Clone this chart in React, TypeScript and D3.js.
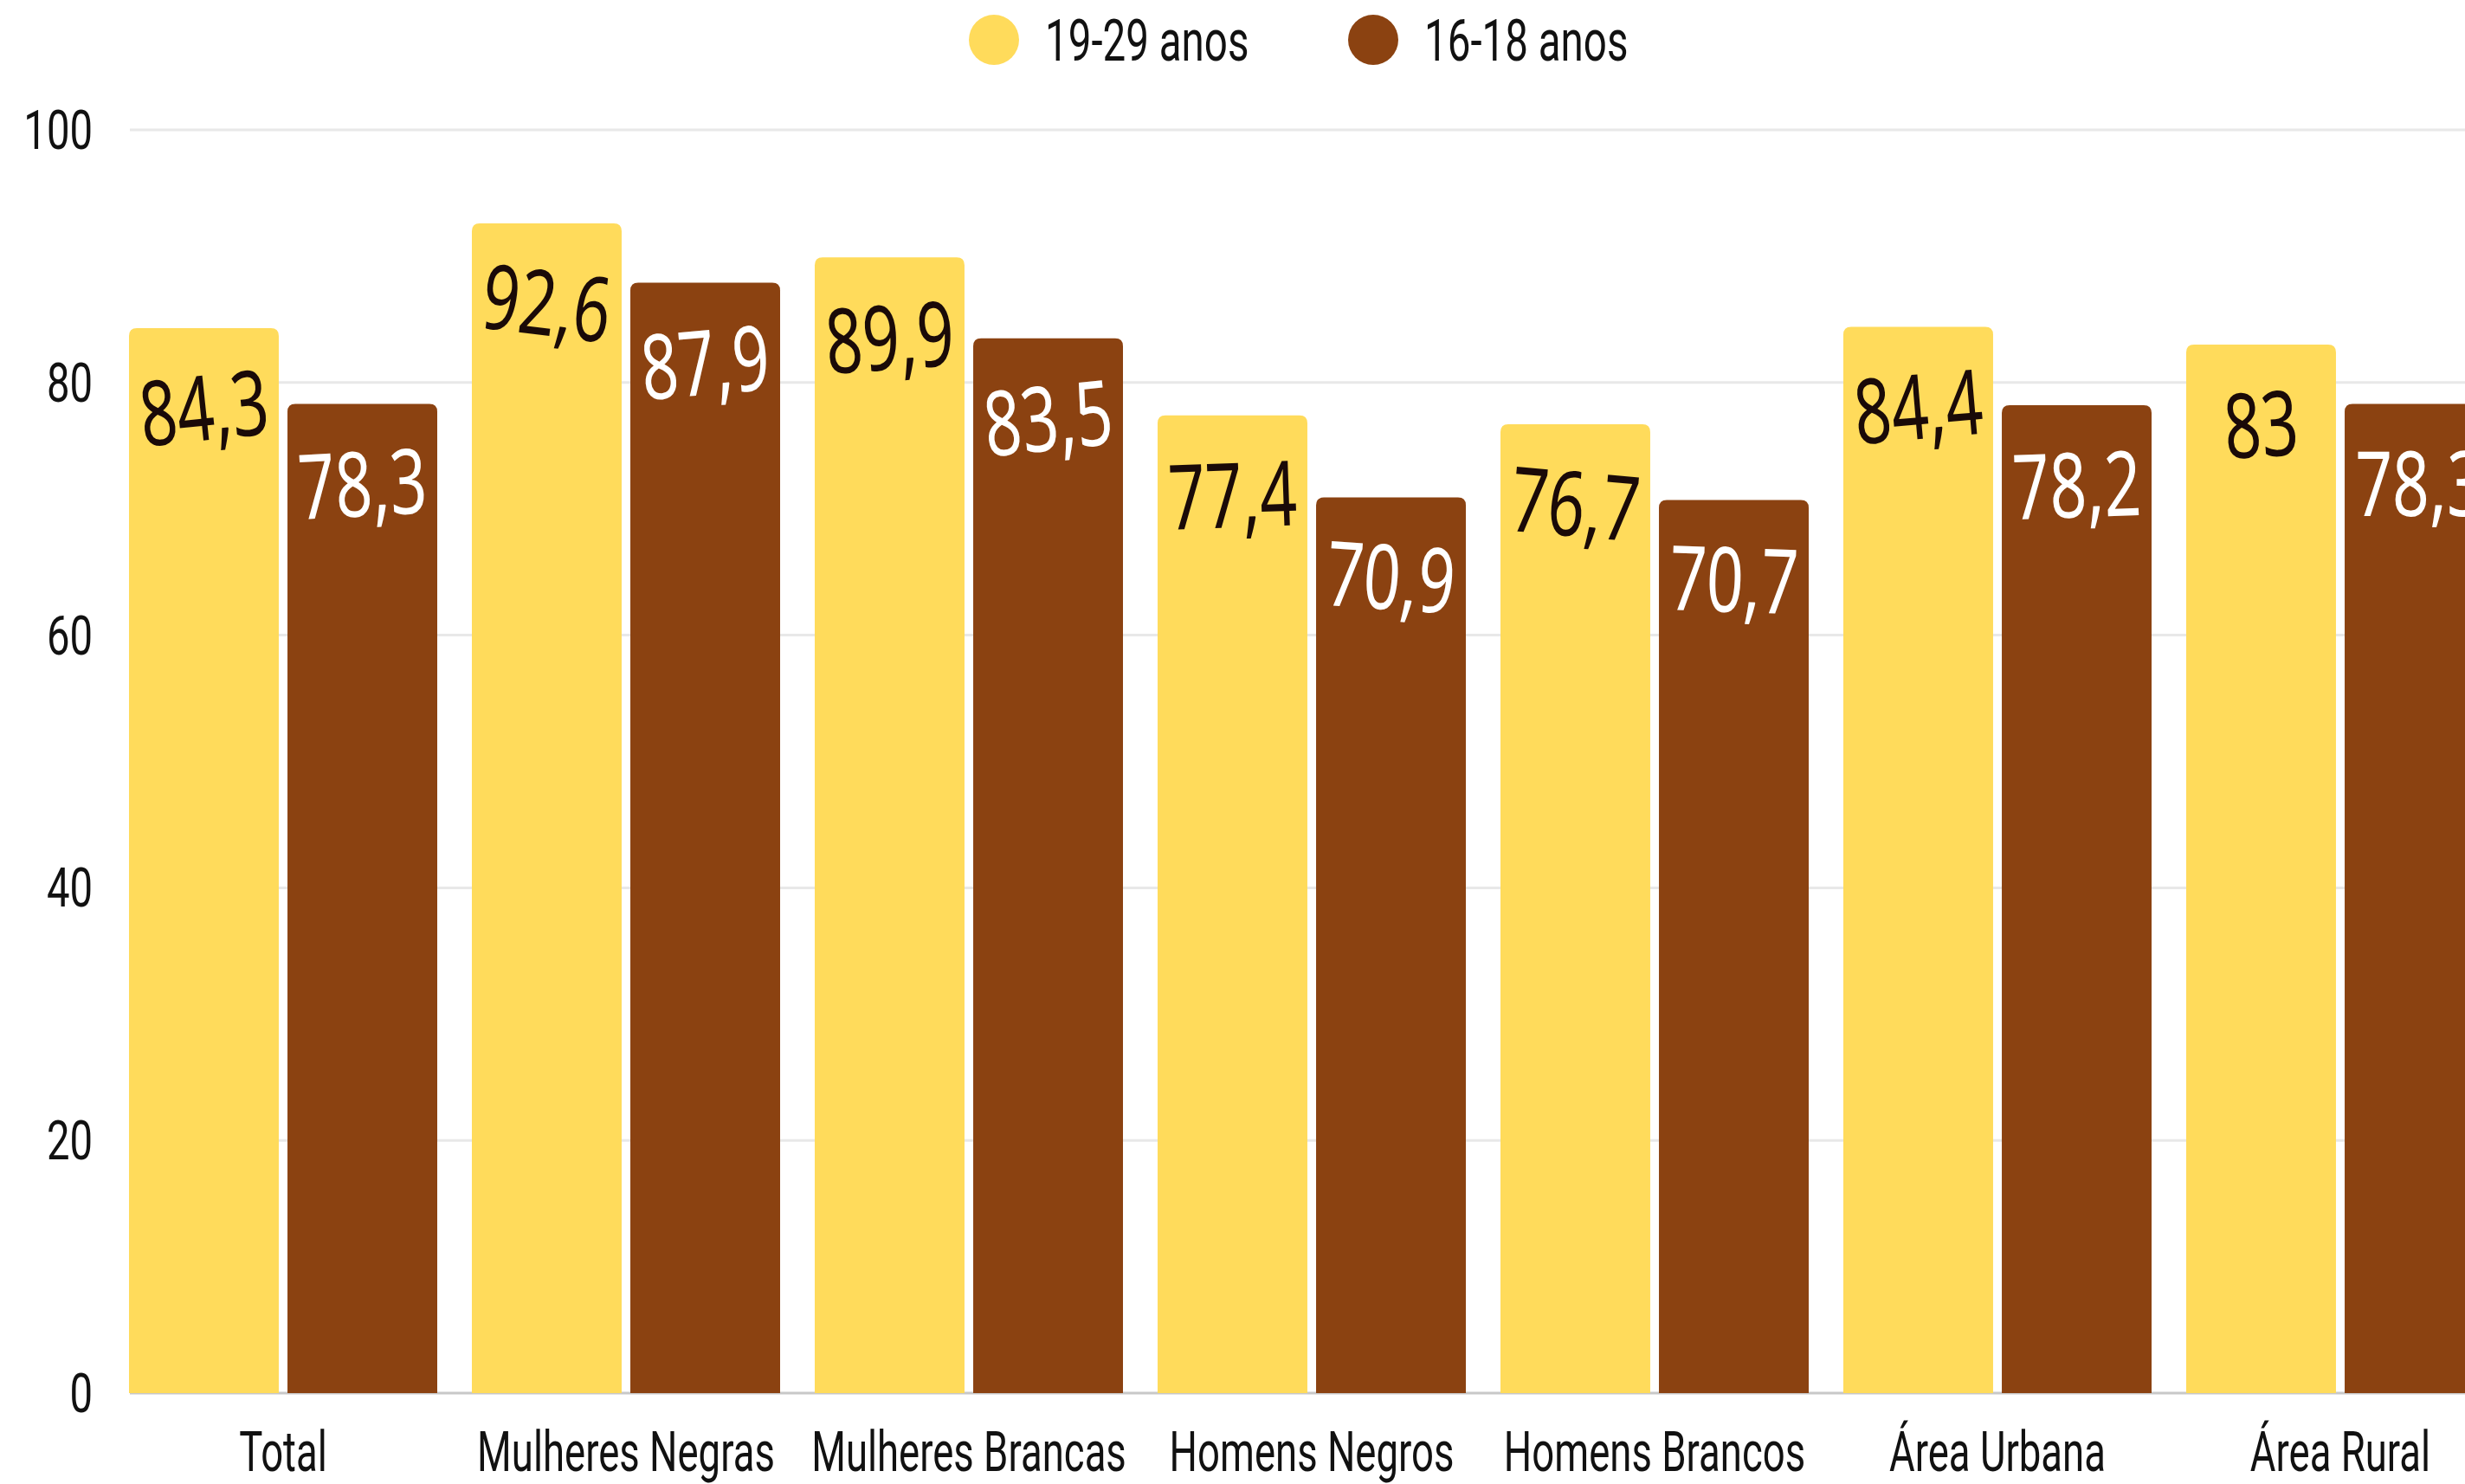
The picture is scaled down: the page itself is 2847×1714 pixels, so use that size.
import React, { useEffect, useRef } from "react";
import * as d3 from "d3";

//// Data
const categories = [
    "Total",
    "Mulheres Negras",
    "Mulheres Brancas",
    "Homens Negros",
    "Homens Brancos",
    "Área Urbana",
    "Área Rural",
];
const series = ["19-29 anos", "16-18 anos"];
const values1929 = [84.3, 92.6, 89.9, 77.4, 76.7, 84.4, 83];
const values1618 = [78.3, 87.9, 83.5, 70.9, 70.7, 78.2, 78.3];
const yTicks = [0, 20, 40, 60, 80, 100];

// little tilt for the hand-written labels (style only)
const tilt1929 = [-6, 7, -4, -2, 5, -5, -4];
const tilt1618 = [-3, -5, -6, 4, 2, -2, 0];

const W = 2847;
const H = 1714;
const COLORS = ["#FFDB5B", "#8B4211"];
const FONT = "Roboto, sans-serif";
const SQUEEZE = 0.72;

// path for a bar with only the top corners rounded
function topRounded(x, y, w, h, r) {
    r = Math.min(r, h, w / 2);
    return `M${x},${y + h}V${y + r}Q${x},${y} ${x + r},${y}H${x + w - r}Q${x + w},${y} ${x + w},${y + r}V${y + h}Z`;
}

export default function App() {
    const svgRef = useRef(null);

    useEffect(() => {
        const svg = d3.select(svgRef.current);
        svg.selectAll("*").remove();

        const margin = { left: 129, top: 150, bottom: 1609 };

        const x0 = d3.scaleBand()
            .domain(categories)
            .range([margin.left, margin.left + categories.length * 396])
            .paddingInner(0.101)
            .paddingOuter(0.0505);
        const x1 = d3.scaleBand()
            .domain(series)
            .range([0, x0.bandwidth()])
            .paddingInner(0.055);
        const y = d3.scaleLinear().domain([0, 100]).range([margin.bottom, margin.top]);
        const color = d3.scaleOrdinal(series, COLORS);

        const rows = categories.map((c, i) => ({
            cat: c,
            bars: [
                { key: series[0], value: values1929[i], tilt: tilt1929[i] },
                { key: series[1], value: values1618[i], tilt: tilt1618[i] },
            ],
        }));

        // grid
        svg.append("g")
            .selectAll("line")
            .data(yTicks)
            .join("line")
            .attr("x1", 150)
            .attr("x2", W)
            .attr("y1", d => y(d))
            .attr("y2", d => y(d))
            .attr("stroke", d => d === 0 ? "#c8c8c8" : "#e8e8e8")
            .attr("stroke-width", 3);

        // y tick labels
        svg.append("g")
            .selectAll("text")
            .data(yTicks)
            .join("text")
            .attr("transform", d => `translate(107,${y(d)}) scale(${SQUEEZE + 0.03},1)`)
            .attr("text-anchor", "end")
            .attr("dy", "0.35em")
            .attr("font-family", FONT)
            .attr("font-size", 63)
            .attr("fill", "#111")
            .text(d => d);

        // bars
        const group = svg.append("g")
            .selectAll("g")
            .data(rows)
            .join("g")
            .attr("transform", d => `translate(${x0(d.cat)},0)`);

        group.selectAll("path")
            .data(d => d.bars)
            .join("path")
            .attr("d", d => topRounded(x1(d.key), y(d.value), x1.bandwidth(), y(0) - y(d.value), 9))
            .attr("fill", d => color(d.key));

        // value labels
        group.selectAll("text")
            .data(d => d.bars)
            .join("text")
            .attr("transform", d => `translate(${x1(d.key) + x1.bandwidth() / 2},${y(d.value) + 92}) rotate(${d.tilt}) scale(0.72,1)`)
            .attr("text-anchor", "middle")
            .attr("dy", "0.36em")
            .attr("font-family", "'Noto Sans', sans-serif")
            .attr("font-weight", 400)
            .attr("font-size", 104)
            .attr("fill", d => d.key === series[0] ? "#1a0a08" : "#ffffff")
            .text(d => String(d.value).replace(".", ","));

        // category labels
        svg.append("g")
            .selectAll("text")
            .data(categories)
            .join("text")
            .attr("transform", d => `translate(${x0(d) + x0.bandwidth() / 2},1699) scale(0.7,1)`)
            .attr("text-anchor", "middle")
            .attr("font-family", FONT)
            .attr("font-size", 65)
            .attr("fill", "#111")
            .text(d => d);

        // legend
        const legendX = [1148, 1586];
        const legend = svg.append("g")
            .selectAll("g")
            .data(series)
            .join("g")
            .attr("transform", (d, i) => `translate(${legendX[i]},46)`);
        legend.append("circle")
            .attr("r", 29)
            .attr("fill", d => color(d));
        legend.append("text")
            .attr("transform", `translate(59,24) scale(${SQUEEZE},1)`)
            .attr("font-family", FONT)
            .attr("font-size", 66)
            .attr("fill", "#111")
            .text(d => d);
    }, []);

    return (
        <svg
            ref={svgRef}
            width={W}
            height={H}
            style={{ position: "absolute", left: 0, top: 0, background: "#fff" }}
        />
    );
}
